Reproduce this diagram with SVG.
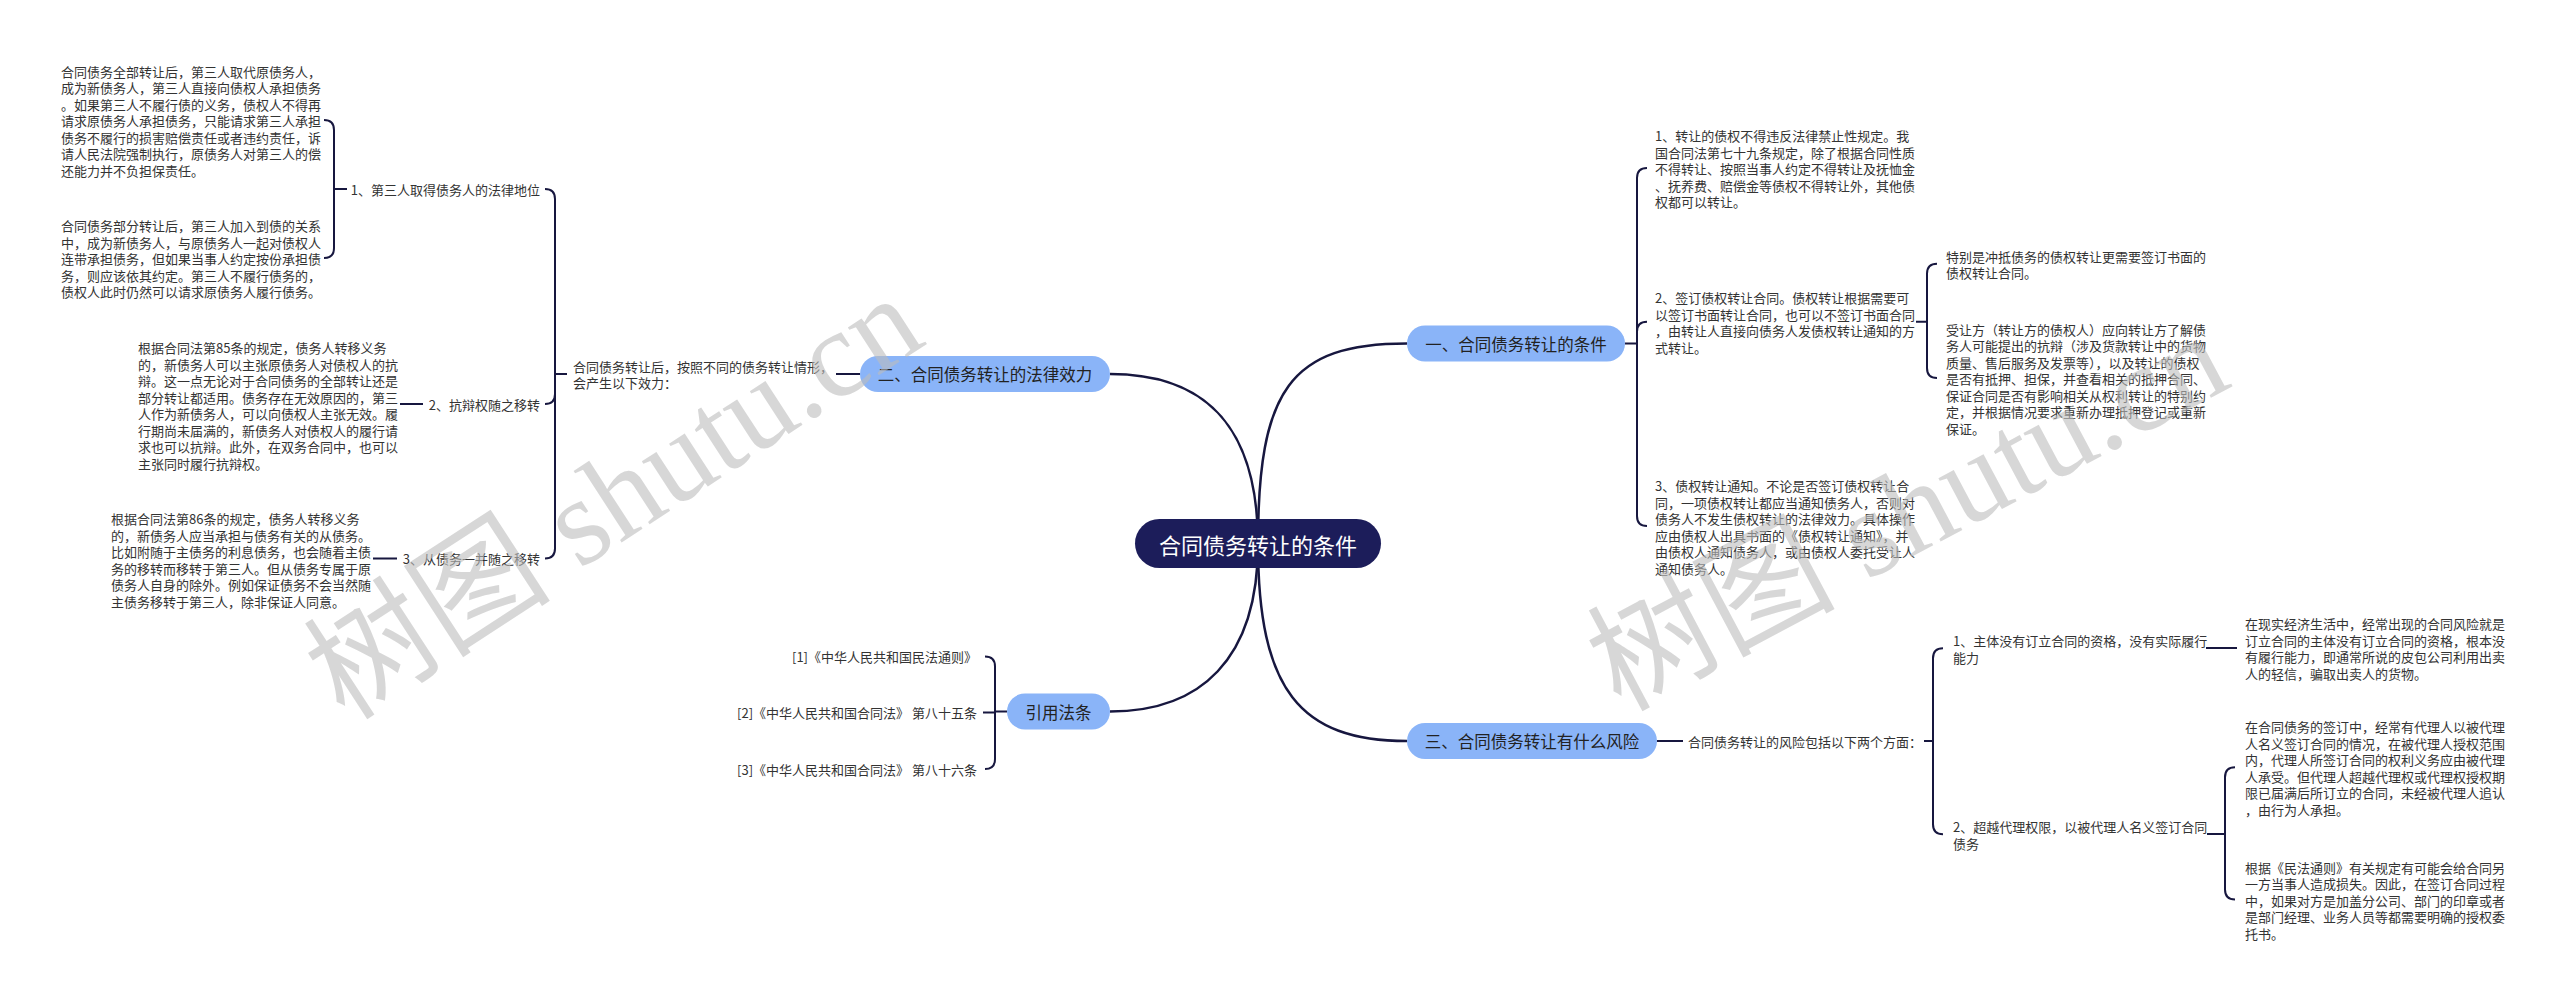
<svg xmlns="http://www.w3.org/2000/svg" width="2560" height="1000" viewBox="0 0 2560 1000">
<style>
text{font-family:"Noto Sans CJK SC","Noto Sans",sans-serif;dominant-baseline:central}
.t{font-size:13px;fill:#333}
.l1{font-size:16.5px;fill:#222;text-anchor:middle}
.root{font-size:22px;fill:#fff;text-anchor:middle}
.nb{fill:#8ab4f8}
.nr{fill:#1c1d5a}
.c{fill:none;stroke:#17173f;stroke-width:2}
.cm{fill:none;stroke:#17173f;stroke-width:2.5}
.wm{font-family:"Liberation Serif","Noto Sans CJK SC",serif;font-size:124px;fill:#bdbdbd;fill-opacity:0.6}
</style>
<rect width="2560" height="1000" fill="#fff"/>
<g id="connectors">
<path class="cm" d="M1258,544 C1258,390 1290,343.5 1407,343.5"/>
<path class="cm" d="M1258,544 C1258,420 1200,374 1110,374"/>
<path class="cm" d="M1258,544 C1258,660 1200,711.5 1110,711.5"/>
<path class="cm" d="M1258,544 C1258,690 1300,741 1407,741"/>
<path class="c" d="M347,189 H334 M334,189 V130 Q334,120 324,120 M334,189 V248 Q334,258 324,258"/>
<path class="c" d="M423,404 H400 M397,558.5 H373"/>
<path class="c" d="M567,374 H555 M555,374 V199 Q555,189 545,189 M555,374 V394 Q555,404 545,404 M555,374 V548.5 Q555,558.5 545,558.5"/>
<path class="c" d="M836,374 H860"/>
<path class="c" d="M1625,343.5 H1637 M1637,343.5 V178 Q1637,168 1647,168 M1637,343.5 V331.75 Q1637,321.75 1647,321.75 M1637,343.5 V516 Q1637,526 1647,526"/>
<path class="c" d="M1916,321.75 H1927 M1927,321.75 V273.75 Q1927,263.75 1937,263.75 M1927,321.75 V368 Q1927,378 1937,378"/>
<path class="c" d="M1657,741 H1683 M1924,741 H1933 M1933,741 V658.25 Q1933,648.25 1943,648.25 M1933,741 V824.25 Q1933,834.25 1943,834.25"/>
<path class="c" d="M2206,648 H2237 M2207,834 H2225 M2225,834 V777.25 Q2225,767.25 2235,767.25 M2225,834 V889.5 Q2225,899.5 2235,899.5"/>
<path class="c" d="M1007,711.5 H995 M995,711.5 V666.5 Q995,656.5 985,656.5 M995,711.5 V712.5 H983 M995,711.5 V759 Q995,769 985,769"/>
</g>
<g id="root">
<rect class="nr" x="1135" y="519" width="246" height="49" rx="24.5"/>
<text class="root" x="1258" y="543.5">合同债务转让的条件</text>
</g>
<g id="n1">
<rect class="nb" x="1407" y="325.5" width="218" height="36" rx="18"/>
<text class="l1" x="1516" y="343.5">一、合同债务转让的条件</text>
</g>
<g id="n2">
<rect class="nb" x="860" y="356" width="250" height="36" rx="18"/>
<text class="l1" x="985" y="374">二、合同债务转让的法律效力</text>
</g>
<g id="n3">
<rect class="nb" x="1007" y="693.5" width="103" height="36" rx="18"/>
<text class="l1" x="1058.5" y="711.5">引用法条</text>
</g>
<g id="n4">
<rect class="nb" x="1407" y="723" width="250" height="36" rx="18"/>
<text class="l1" x="1532" y="741">三、合同债务转让有什么风险</text>
</g>
<g id="n2-0">
<text class="t" x="573"><tspan x="573" y="365.75">合同债务转让后，按照不同的债务转让情形，</tspan><tspan x="573" y="382.25">会产生以下效力：</tspan></text>
</g>
<g id="n2-1">
<text class="t" x="540" y="189" text-anchor="end">1、第三人取得债务人的法律地位</text>
</g>
<g id="n2-1a">
<text class="t"><tspan x="61" y="70.5">合同债务全部转让后，第三人取代原债务人，</tspan><tspan x="61" y="87">成为新债务人，第三人直接向债权人承担债务</tspan><tspan x="61" y="103.5">。如果第三人不履行债的义务，债权人不得再</tspan><tspan x="61" y="120">请求原债务人承担债务，只能请求第三人承担</tspan><tspan x="61" y="136.5">债务不履行的损害赔偿责任或者违约责任，诉</tspan><tspan x="61" y="153">请人民法院强制执行，原债务人对第三人的偿</tspan><tspan x="61" y="169.5">还能力并不负担保责任。</tspan></text>
</g>
<g id="n2-1b">
<text class="t"><tspan x="61" y="225">合同债务部分转让后，第三人加入到债的关系</tspan><tspan x="61" y="241.5">中，成为新债务人，与原债务人一起对债权人</tspan><tspan x="61" y="258">连带承担债务，但如果当事人约定按份承担债</tspan><tspan x="61" y="274.5">务，则应该依其约定。第三人不履行债务的，</tspan><tspan x="61" y="291">债权人此时仍然可以请求原债务人履行债务。</tspan></text>
</g>
<g id="n2-2">
<text class="t" x="540" y="404" text-anchor="end">2、抗辩权随之移转</text>
</g>
<g id="n2-2a">
<text class="t"><tspan x="138" y="347">根据合同法第85条的规定，债务人转移义务</tspan><tspan x="138" y="363.5">的，新债务人可以主张原债务人对债权人的抗</tspan><tspan x="138" y="380">辩。这一点无论对于合同债务的全部转让还是</tspan><tspan x="138" y="396.5">部分转让都适用。债务存在无效原因的，第三</tspan><tspan x="138" y="413">人作为新债务人，可以向债权人主张无效。履</tspan><tspan x="138" y="429.5">行期尚未届满的，新债务人对债权人的履行请</tspan><tspan x="138" y="446">求也可以抗辩。此外，在双务合同中，也可以</tspan><tspan x="138" y="462.5">主张同时履行抗辩权。</tspan></text>
</g>
<g id="n2-3">
<text class="t" x="540" y="558.5" text-anchor="end">3、从债务一并随之移转</text>
</g>
<g id="n2-3a">
<text class="t"><tspan x="111" y="518">根据合同法第86条的规定，债务人转移义务</tspan><tspan x="111" y="534.5">的，新债务人应当承担与债务有关的从债务。</tspan><tspan x="111" y="551">比如附随于主债务的利息债务，也会随着主债</tspan><tspan x="111" y="567.5">务的移转而移转于第三人。但从债务专属于原</tspan><tspan x="111" y="584">债务人自身的除外。例如保证债务不会当然随</tspan><tspan x="111" y="600.5">主债务移转于第三人，除非保证人同意。</tspan></text>
</g>
<g id="n1-1">
<text class="t"><tspan x="1655" y="135">1、转让的债权不得违反法律禁止性规定。我</tspan><tspan x="1655" y="151.5">国合同法第七十九条规定，除了根据合同性质</tspan><tspan x="1655" y="168">不得转让、按照当事人约定不得转让及抚恤金</tspan><tspan x="1655" y="184.5">、抚养费、赔偿金等债权不得转让外，其他债</tspan><tspan x="1655" y="201">权都可以转让。</tspan></text>
</g>
<g id="n1-2">
<text class="t"><tspan x="1655" y="297">2、签订债权转让合同。债权转让根据需要可</tspan><tspan x="1655" y="313.5">以签订书面转让合同，也可以不签订书面合同</tspan><tspan x="1655" y="330">，由转让人直接向债务人发债权转让通知的方</tspan><tspan x="1655" y="346.5">式转让。</tspan></text>
</g>
<g id="n1-2a">
<text class="t"><tspan x="1946" y="255.5">特别是冲抵债务的债权转让更需要签订书面的</tspan><tspan x="1946" y="272">债权转让合同。</tspan></text>
</g>
<g id="n1-2b">
<text class="t"><tspan x="1946" y="328.5">受让方（转让方的债权人）应向转让方了解债</tspan><tspan x="1946" y="345">务人可能提出的抗辩（涉及货款转让中的货物</tspan><tspan x="1946" y="361.5">质量、售后服务及发票等），以及转让的债权</tspan><tspan x="1946" y="378">是否有抵押、担保，并查看相关的抵押合同、</tspan><tspan x="1946" y="394.5">保证合同是否有影响相关从权利转让的特别约</tspan><tspan x="1946" y="411">定，并根据情况要求重新办理抵押登记或重新</tspan><tspan x="1946" y="427.5">保证。</tspan></text>
</g>
<g id="n1-3">
<text class="t"><tspan x="1655" y="485">3、债权转让通知。不论是否签订债权转让合</tspan><tspan x="1655" y="501.5">同，一项债权转让都应当通知债务人，否则对</tspan><tspan x="1655" y="518">债务人不发生债权转让的法律效力。具体操作</tspan><tspan x="1655" y="534.5">应由债权人出具书面的《债权转让通知》，并</tspan><tspan x="1655" y="551">由债权人通知债务人，或由债权人委托受让人</tspan><tspan x="1655" y="567.5">通知债务人。</tspan></text>
</g>
<g id="n3-1">
<text class="t" x="977" y="656.5" text-anchor="end">[1]《中华人民共和国民法通则》</text>
</g>
<g id="n3-2">
<text class="t" x="977" y="712.5" text-anchor="end">[2]《中华人民共和国合同法》 第八十五条</text>
</g>
<g id="n3-3">
<text class="t" x="977" y="769" text-anchor="end">[3]《中华人民共和国合同法》 第八十六条</text>
</g>
<g id="n4-0">
<text class="t" x="1688" y="741">合同债务转让的风险包括以下两个方面：</text>
</g>
<g id="n4-1">
<text class="t"><tspan x="1953" y="640">1、主体没有订立合同的资格，没有实际履行</tspan><tspan x="1953" y="656.5">能力</tspan></text>
</g>
<g id="n4-1a">
<text class="t"><tspan x="2245" y="623">在现实经济生活中，经常出现的合同风险就是</tspan><tspan x="2245" y="639.5">订立合同的主体没有订立合同的资格，根本没</tspan><tspan x="2245" y="656">有履行能力，即通常所说的皮包公司利用出卖</tspan><tspan x="2245" y="672.5">人的轻信，骗取出卖人的货物。</tspan></text>
</g>
<g id="n4-2">
<text class="t"><tspan x="1953" y="826">2、超越代理权限，以被代理人名义签订合同</tspan><tspan x="1953" y="842.5">债务</tspan></text>
</g>
<g id="n4-2a">
<text class="t"><tspan x="2245" y="726">在合同债务的签订中，经常有代理人以被代理</tspan><tspan x="2245" y="742.5">人名义签订合同的情况，在被代理人授权范围</tspan><tspan x="2245" y="759">内，代理人所签订合同的权利义务应由被代理</tspan><tspan x="2245" y="775.5">人承受。但代理人超越代理权或代理权授权期</tspan><tspan x="2245" y="792">限已届满后所订立的合同，未经被代理人追认</tspan><tspan x="2245" y="808.5">，由行为人承担。</tspan></text>
</g>
<g id="n4-2b">
<text class="t"><tspan x="2245" y="866.5">根据《民法通则》有关规定有可能会给合同另</tspan><tspan x="2245" y="883">一方当事人造成损失。因此，在签订合同过程</tspan><tspan x="2245" y="899.5">中，如果对方是加盖分公司、部门的印章或者</tspan><tspan x="2245" y="916">是部门经理、业务人员等都需要明确的授权委</tspan><tspan x="2245" y="932.5">托书。</tspan></text>
</g>
<g id="watermarks">
<text class="wm" transform="translate(345,722) rotate(-33)" style="dominant-baseline:auto">树图 shutu.cn</text>
<text class="wm" transform="translate(1620,712) rotate(-28)" style="dominant-baseline:auto">树图 shutu.cn</text>
</g>
</svg>
